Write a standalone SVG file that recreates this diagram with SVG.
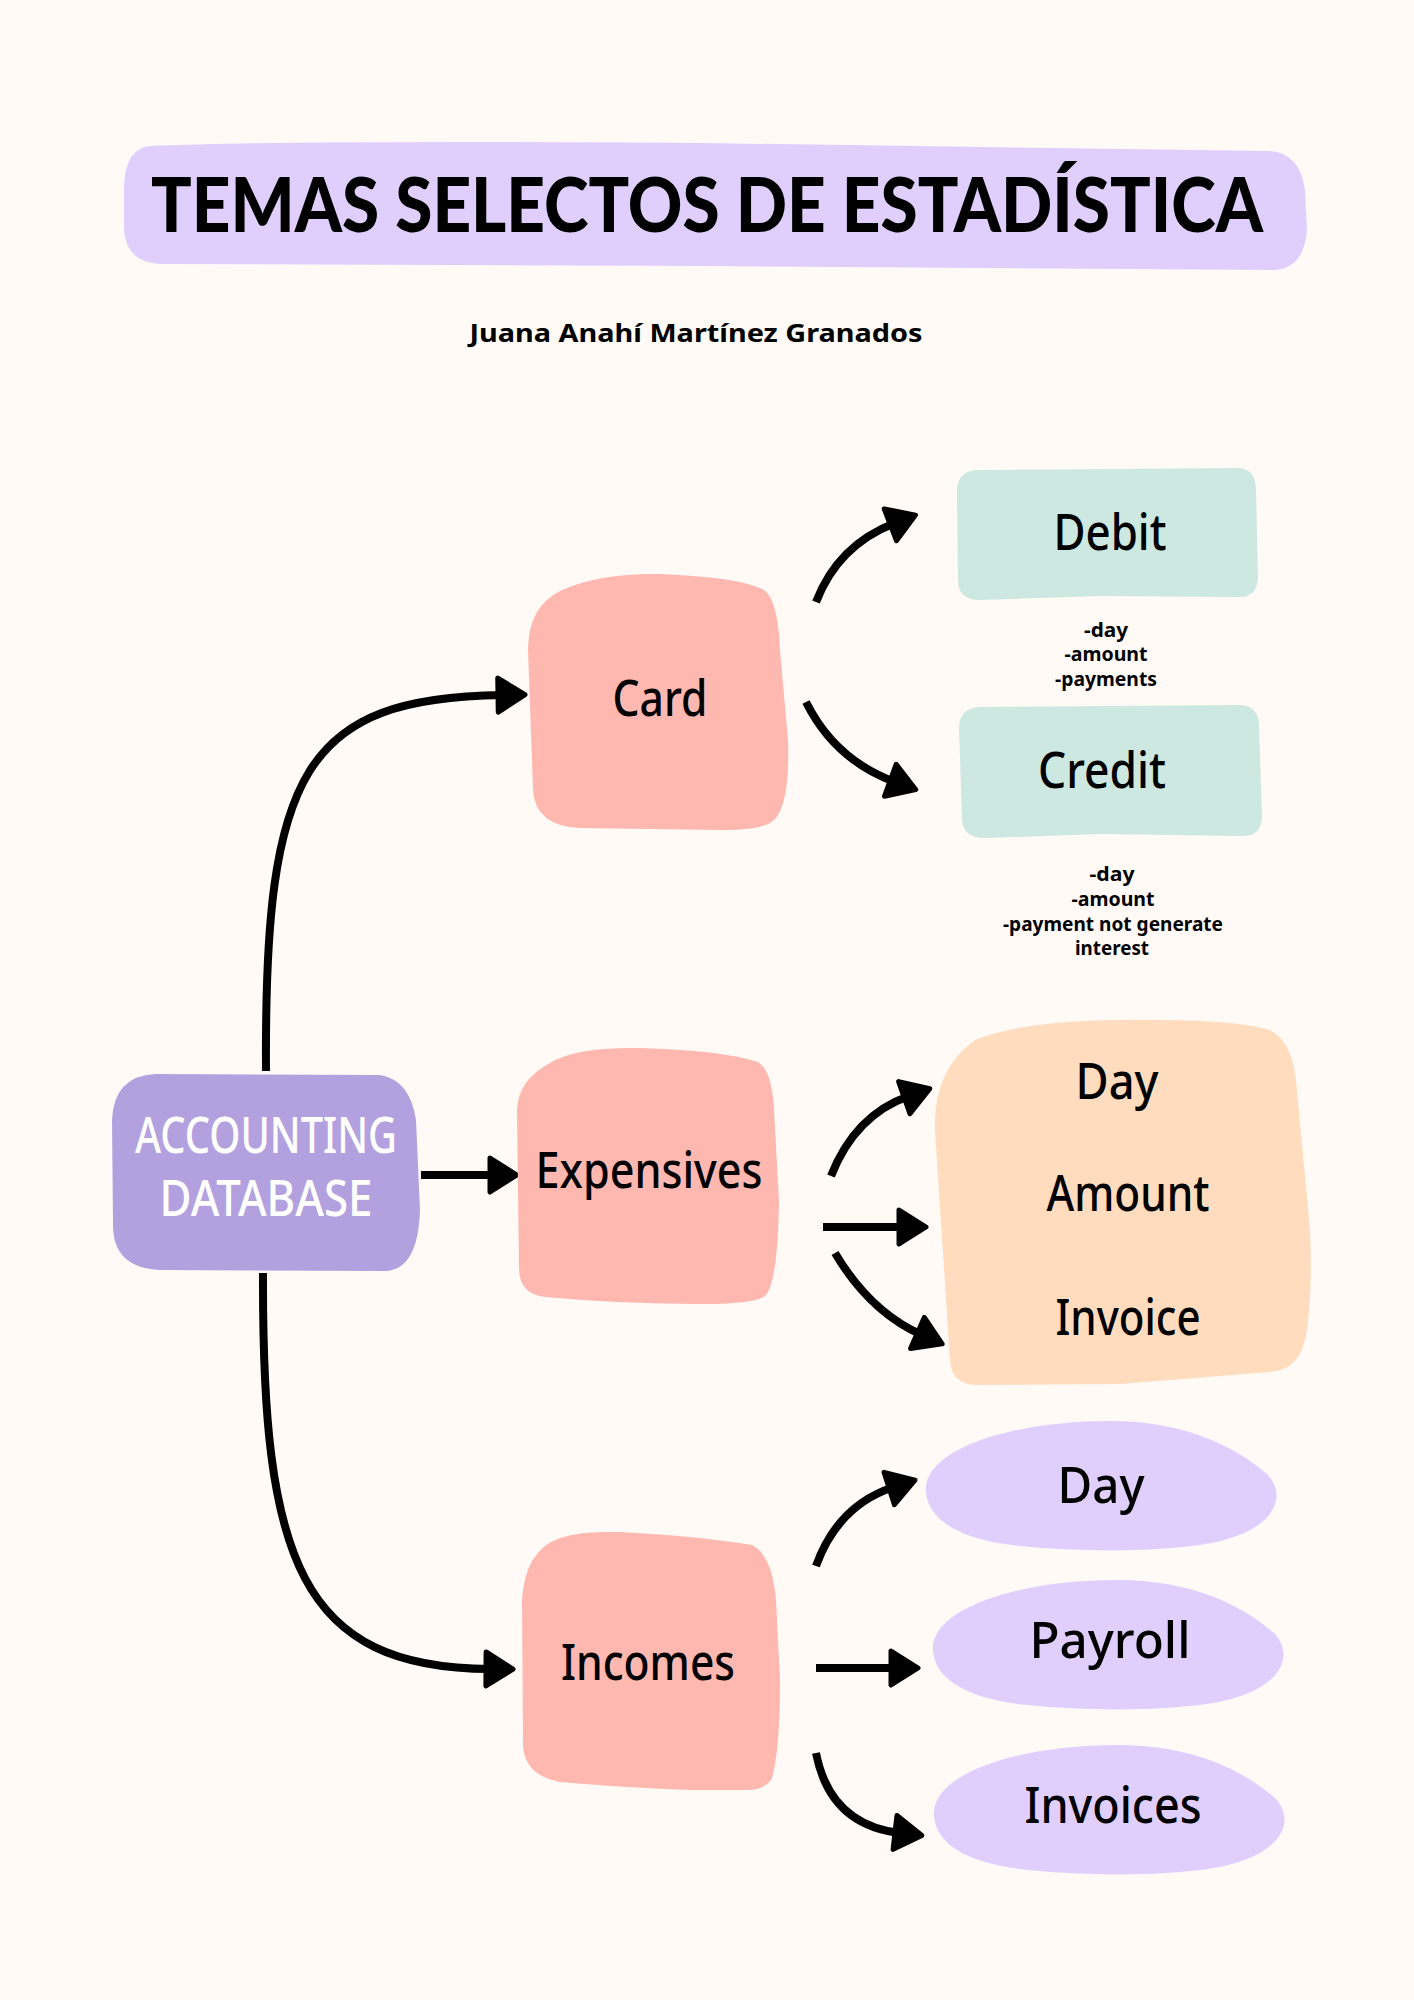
<svg xmlns="http://www.w3.org/2000/svg" width="1414" height="2000" viewBox="0 0 1414 2000">
<defs>
<style>
.bg{fill:#fffaf6}
.title{font-family:"Lato","Noto Sans",sans-serif;font-weight:900;font-size:76px;fill:#000;text-anchor:middle}
.sub{font-family:"Noto Sans","DejaVu Sans",sans-serif;font-weight:700;font-size:25px;fill:#000;text-anchor:middle}
.lbl{font-family:"Noto Sans","DejaVu Sans",sans-serif;font-weight:500;font-size:50px;fill:#000;text-anchor:middle}
.db{font-family:"Noto Sans","DejaVu Sans",sans-serif;font-weight:500;font-size:50px;fill:#fff;text-anchor:middle}
.note{font-family:"Noto Sans","DejaVu Sans",sans-serif;font-weight:700;font-size:19px;fill:#000;text-anchor:middle}
.pink{fill:#ffb8b0}
.mint{fill:#cce8e0}
.purple{fill:#b3a1df}
.peach{fill:#ffdcbd}
.lav{fill:#e0cffd}
.conn{fill:none;stroke:#000;stroke-width:8;stroke-linecap:butt}
</style>
<marker id="ah" markerUnits="userSpaceOnUse" viewBox="0 0 34 40" refX="8" refY="20" markerWidth="34" markerHeight="40" orient="auto" overflow="visible">
<path d="M3 3 L30 20 L3 37 Z" fill="#000" stroke="#000" stroke-width="5" stroke-linejoin="round"/>
</marker>
<path id="blob" d="M0 71 C-4 29 84 0 184 0 C264 0 314 29 342 54 C364 79 344 114 274 124 C224 131 154 131 94 125 C34 119 2 99 0 71 Z"/>
</defs>
<rect class="bg" x="0" y="0" width="1414" height="2000"/>

<g id="title">
<path class="lav" d="M150 146 Q300 140 700 143 L1270 151 Q1300 153 1305 190 L1307 230 Q1304 268 1275 270 L700 266 L160 264 Q126 262 124 230 L124 185 Q126 148 150 146 Z"/>
<text class="title" x="707" y="232" textLength="1112" lengthAdjust="spacingAndGlyphs">TEMAS SELECTOS DE ESTADÍSTICA</text>
</g>
<g id="author">
<text class="sub" x="696" y="342" textLength="453" lengthAdjust="spacingAndGlyphs">Juana Anahí Martínez Granados</text>
</g>

<g id="connectors">
<path class="conn" marker-end="url(#ah)" d="M266 1071 C264 770 305 698 503 695"/>
<path class="conn" marker-end="url(#ah)" d="M421 1175 L495 1175"/>
<path class="conn" marker-end="url(#ah)" d="M263 1273 C262 1560 300 1668 491 1669"/>
<path class="conn" marker-end="url(#ah)" d="M816 602 Q838 545 895 523"/>
<path class="conn" marker-end="url(#ah)" d="M806 702 Q835 760 895 782"/>
<path class="conn" marker-end="url(#ah)" d="M831 1176 Q855 1115 909 1096"/>
<path class="conn" marker-end="url(#ah)" d="M823 1227 L904 1227"/>
<path class="conn" marker-end="url(#ah)" d="M835 1253 Q870 1312 922 1335"/>
<path class="conn" marker-end="url(#ah)" d="M816 1566 Q838 1505 894 1487"/>
<path class="conn" marker-end="url(#ah)" d="M816 1668 L896 1668"/>
<path class="conn" marker-end="url(#ah)" d="M816 1753 Q830 1825 900 1833"/>
</g>

<g id="card">
<path class="pink" d="M562 590 Q600 573 660 574 Q740 577 764 590 Q778 600 780 650 L788 740 Q790 800 776 818 Q766 831 720 830 L580 828 Q535 826 533 790 L528 650 Q528 606 562 590 Z"/>
<text class="lbl" x="660" y="716" textLength="95" lengthAdjust="spacingAndGlyphs">Card</text>
</g>

<g id="debit">
<path class="mint" d="M977 470 L1240 468 Q1256 470 1256 490 L1258 578 Q1257 598 1238 597 L1100 596 L980 600 Q958 600 958 580 L957 492 Q957 471 977 470 Z"/>
<text class="lbl" x="1110" y="550" textLength="113" lengthAdjust="spacingAndGlyphs">Debit</text>
</g>
<g id="debit-notes">
<text class="note" x="1106" y="637" textLength="44" lengthAdjust="spacingAndGlyphs">-day</text>
<text class="note" x="1106" y="661" textLength="83" lengthAdjust="spacingAndGlyphs">-amount</text>
<text class="note" x="1106" y="686" textLength="102" lengthAdjust="spacingAndGlyphs">-payments</text>
</g>

<g id="credit">
<path class="mint" d="M980 707 L1242 705 Q1259 707 1259 726 L1262 818 Q1261 837 1240 836 L1100 834 L985 838 Q962 838 962 818 L959 728 Q959 708 980 707 Z"/>
<text class="lbl" x="1102" y="788" textLength="128" lengthAdjust="spacingAndGlyphs">Credit</text>
</g>
<g id="credit-notes">
<text class="note" x="1112" y="881" textLength="45" lengthAdjust="spacingAndGlyphs">-day</text>
<text class="note" x="1113" y="906" textLength="83" lengthAdjust="spacingAndGlyphs">-amount</text>
<text class="note" x="1113" y="931" textLength="220" lengthAdjust="spacingAndGlyphs">-payment not generate</text>
<text class="note" x="1112" y="955" textLength="74" lengthAdjust="spacingAndGlyphs">interest</text>
</g>

<g id="accounting-database">
<path class="purple" d="M155 1074 L380 1075 Q410 1080 416 1120 L420 1210 Q418 1270 385 1271 L160 1270 Q113 1268 113 1225 L112 1120 Q114 1076 155 1074 Z"/>
<text class="db" x="266" y="1153" textLength="262" lengthAdjust="spacingAndGlyphs">ACCOUNTING</text>
<text class="db" x="266" y="1216" textLength="213" lengthAdjust="spacingAndGlyphs">DATABASE</text>
</g>

<g id="expensives">
<path class="pink" d="M550 1063 Q575 1047 640 1048 Q720 1050 758 1062 Q772 1070 774 1110 L779 1200 Q778 1280 766 1295 Q758 1304 700 1304 Q620 1304 545 1297 Q520 1294 519 1270 L517 1110 Q518 1080 550 1063 Z"/>
<text class="lbl" x="649" y="1188" textLength="227" lengthAdjust="spacingAndGlyphs">Expensives</text>
</g>

<g id="expensives-fields">
<path class="peach" d="M975 1040 Q1020 1022 1110 1020 Q1230 1018 1270 1030 Q1292 1042 1296 1080 L1310 1230 Q1313 1300 1305 1340 Q1298 1370 1270 1372 L1120 1384 L975 1385 Q951 1383 950 1360 L935 1130 Q933 1070 975 1040 Z"/>
<text class="lbl" x="1117" y="1099" textLength="83" lengthAdjust="spacingAndGlyphs">Day</text>
<text class="lbl" x="1128" y="1211" textLength="163" lengthAdjust="spacingAndGlyphs">Amount</text>
<text class="lbl" x="1128" y="1335" textLength="145" lengthAdjust="spacingAndGlyphs">Invoice</text>
</g>

<g id="incomes">
<path class="pink" d="M560 1538 Q580 1531 615 1532 Q690 1535 752 1545 Q772 1555 776 1600 L780 1680 Q780 1750 772 1778 Q766 1790 745 1790 L690 1790 Q630 1788 560 1782 Q524 1775 523 1745 L522 1600 Q525 1550 560 1538 Z"/>
<text class="lbl" x="648" y="1680" textLength="174" lengthAdjust="spacingAndGlyphs">Incomes</text>
</g>

<g id="income-day">
<use href="#blob" class="lav" transform="translate(926 1421)"/>
<text class="lbl" x="1101" y="1503" textLength="87" lengthAdjust="spacingAndGlyphs">Day</text>
</g>
<g id="income-payroll">
<use href="#blob" class="lav" transform="translate(933 1580)"/>
<text class="lbl" x="1110" y="1658" textLength="161" lengthAdjust="spacingAndGlyphs">Payroll</text>
</g>
<g id="income-invoices">
<use href="#blob" class="lav" transform="translate(934 1745)"/>
<text class="lbl" x="1113" y="1823" textLength="177" lengthAdjust="spacingAndGlyphs">Invoices</text>
</g>
</svg>
